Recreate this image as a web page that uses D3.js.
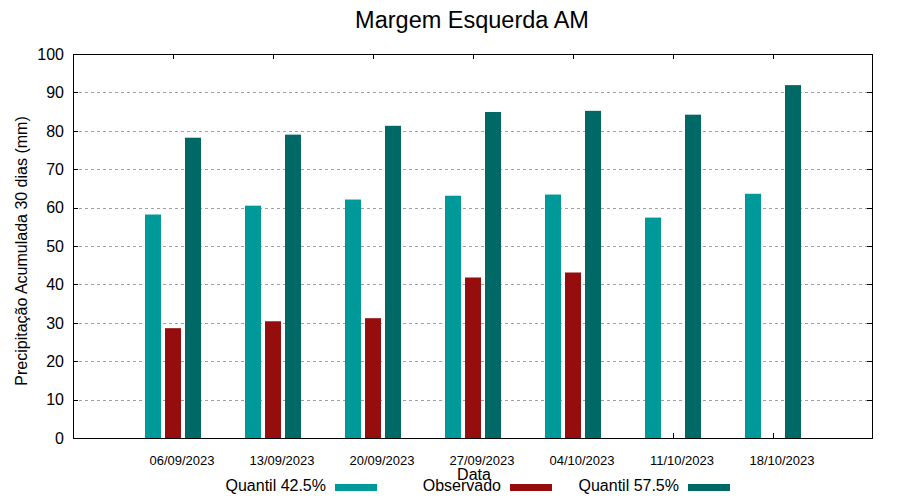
<!DOCTYPE html>
<html>
<head>
<meta charset="utf-8">
<script src="https://cdn.jsdelivr.net/npm/d3@7"></script>
<style>
  html, body { margin: 0; padding: 0; background: #fff; }
  svg { display: block; font-family: "Liberation Sans", Arial, sans-serif; }
</style>
</head>
<body>
<svg id="chart" width="900" height="500"></svg>
<script>
const title = "Margem Esquerda AM";
const categories = ["06/09/2023", "13/09/2023", "20/09/2023", "27/09/2023", "04/10/2023", "11/10/2023", "18/10/2023"];
const quantil425 = [58.2, 60.5, 62.1, 63.1, 63.4, 57.4, 63.6];
const observado = [28.6, 30.4, 31.2, 41.8, 43.1, null, null];
const quantil575 = [78.2, 79.0, 81.3, 84.9, 85.2, 84.2, 91.9];
const yTicks = [0, 10, 20, 30, 40, 50, 60, 70, 80, 90, 100];
const seriesNames = ["Quantil 42.5%", "Observado", "Quantil 57.5%"];
const seriesColors = ["#009999", "#950d0d", "#006966"];

const svg = d3.select("#chart");
const L = 73, R = 872, T = 54, B = 438;

const x = d3.scaleLinear().domain([0, categories.length + 1]).range([L, R + 1]);
const y = d3.scaleLinear().domain([0, 100]).range([B, T]);

const barW = 16, offsets = [-20, 0, 20];
const series = [quantil425, observado, quantil575];

// grid
svg.append("g").selectAll("line")
  .data(yTicks.filter(v => v > 0 && v < 100))
  .join("line")
  .attr("x1", L).attr("x2", R)
  .attr("y1", d => Math.round(y(d)) + 0.5).attr("y2", d => Math.round(y(d)) + 0.5)
  .attr("stroke", "#a0a0a0").attr("stroke-width", 1)
  .attr("stroke-dasharray", "3,3");

// ticks (y left/right, x top/bottom)
const tg = svg.append("g").attr("stroke", "#000").attr("stroke-width", 1);
yTicks.forEach(v => {
  const yy = Math.round(y(v)) + 0.5;
  tg.append("line").attr("x1", L).attr("x2", L + 5).attr("y1", yy).attr("y2", yy);
  tg.append("line").attr("x1", R - 5).attr("x2", R).attr("y1", yy).attr("y2", yy);
});
categories.forEach((c, i) => {
  const xx = Math.round(x(i + 1)) + 0.5;
  tg.append("line").attr("x1", xx).attr("x2", xx).attr("y1", T).attr("y2", T + 5);
  tg.append("line").attr("x1", xx).attr("x2", xx).attr("y1", B - 5).attr("y2", B);
});

// bars
series.forEach((vals, s) => {
  svg.append("g").selectAll("rect")
    .data(vals.map((v, i) => ({ v, i })).filter(d => d.v !== null))
    .join("rect")
    .attr("x", d => Math.round(x(d.i + 1)) + offsets[s] - barW / 2)
    .attr("width", barW)
    .attr("y", d => y(d.v))
    .attr("height", d => y(0) - y(d.v))
    .attr("fill", seriesColors[s]);
});

// border
svg.append("rect")
  .attr("x", L + 0.5).attr("y", T + 0.5)
  .attr("width", R - L).attr("height", B - T)
  .attr("fill", "none").attr("stroke", "#000").attr("stroke-width", 1);

// y tick labels
svg.append("g").selectAll("text")
  .data(yTicks).join("text")
  .attr("x", 64).attr("y", d => y(d))
  .attr("dy", "0.36em")
  .attr("text-anchor", "end")
  .attr("font-size", 16)
  .text(d => d);

// x tick labels
svg.append("g").selectAll("text")
  .data(categories).join("text")
  .attr("x", (d, i) => x(i + 1) + 9)
  .attr("y", 465)
  .attr("text-anchor", "middle")
  .attr("font-size", 13)
  .text(d => d);

// title
svg.append("text")
  .attr("x", 472).attr("y", 28)
  .attr("text-anchor", "middle")
  .attr("font-size", 23.5)
  .text(title);

// axis titles
svg.append("text")
  .attr("x", 474).attr("y", 480)
  .attr("text-anchor", "middle")
  .attr("font-size", 16)
  .text("Data");

svg.append("text")
  .attr("transform", "translate(27,251) rotate(-90)")
  .attr("text-anchor", "middle")
  .attr("font-size", 16)
  .text("Precipitação Acumulada 30 dias (mm)");

// legend
const legendTextEnd = [326, 501, 679];
seriesNames.forEach((name, s) => {
  svg.append("text")
    .attr("x", legendTextEnd[s]).attr("y", 491)
    .attr("text-anchor", "end")
    .attr("font-size", 16)
    .text(name);
  svg.append("rect")
    .attr("x", legendTextEnd[s] + 9).attr("y", 484)
    .attr("width", 42).attr("height", 7)
    .attr("fill", seriesColors[s]);
});
</script>
</body>
</html>
